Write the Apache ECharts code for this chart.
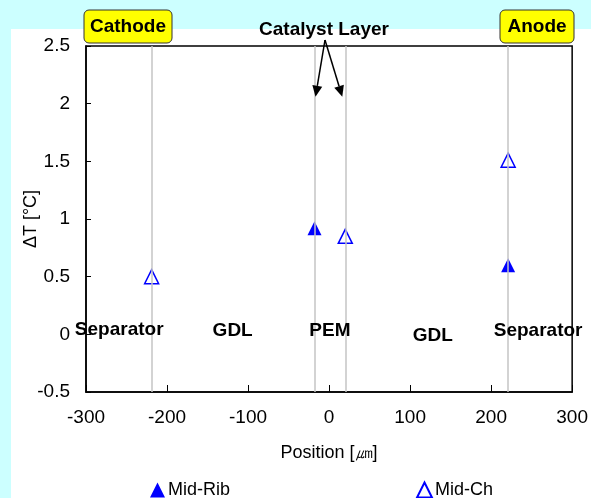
<!DOCTYPE html>
<html lang="en">
<head>
    <meta charset="UTF-8">
    <title>Temperature rise across the cell</title>
    <script src="https://cdn.jsdelivr.net/npm/echarts@6/dist/echarts.min.js"></script>
    <style>
        html, body { margin: 0; padding: 0; background: #ccffff; }
        #panel { position: absolute; left: 11px; top: 29px; right: 0; bottom: 0; background: #fff; }
        #chart { position: absolute; left: 0; top: 0; width: 591px; height: 498px; }
    </style>
</head>
<body>
    <div id="panel"></div>
    <div id="chart"></div>
    <script>
        // values
        var midRibX = [-18, 221];
        var midRibY = [0.92, 0.6];
        var midChX = [-219, 20, 221];
        var midChY = [0.5, 0.85, 1.51];

        // layer boundaries (gray vertical lines)
        var boundaries = [-219, -18, 20, 221];

        // layer names and where they sit
        var regionNames = ['Separator', 'GDL', 'PEM', 'GDL', 'Separator'];
        var regionX = [-259, -119, 1, 128, 258];
        var regionY = [0.04, 0.03, 0.03, -0.01, 0.03];

        var font = 'Liberation Sans, Arial, sans-serif';

        function pairs(xs, ys) {
            return xs.map(function (x, i) { return [x, ys[i]]; });
        }

        var chart = echarts.init(document.getElementById('chart'), null, { renderer: 'canvas' });

        var option = {
            animation: false,
            backgroundColor: 'transparent',
            grid: {
                left: 86, right: 17, top: 46, bottom: 106,
                show: true, borderColor: '#000', borderWidth: 1.5, backgroundColor: 'transparent'
            },
            xAxis: {
                type: 'value', min: -300, max: 300, interval: 100,
                name: 'Position [㎛]', nameLocation: 'middle', nameGap: 52,
                nameMoveOverlap: false,
                nameTextStyle: { fontFamily: font, fontSize: 18, color: '#000' },
                axisLine: { onZero: false, lineStyle: { color: '#000', width: 1.5 } },
                axisTick: { inside: true, length: 7, lineStyle: { color: '#000' } },
                axisLabel: { fontFamily: font, fontSize: 19, color: '#000', margin: 16 },
                splitLine: { show: false }
            },
            yAxis: {
                type: 'value', min: -0.5, max: 2.5, interval: 0.5,
                name: 'ΔT [°C]', nameLocation: 'middle', nameGap: 46,
                nameMoveOverlap: false,
                nameTextStyle: { fontFamily: font, fontSize: 18, color: '#000' },
                axisLine: { show: true, onZero: false, lineStyle: { color: '#000', width: 1.5 } },
                axisTick: { inside: true, length: 5, lineStyle: { color: '#000' } },
                axisLabel: { fontFamily: font, fontSize: 19, color: '#000', margin: 16 },
                splitLine: { show: false }
            },
            legend: {
                data: ['Mid-Rib', 'Mid-Ch'],
                left: 145, top: 476, itemGap: 186, itemWidth: 15, itemHeight: 15,
                textStyle: { fontFamily: font, fontSize: 18, color: '#000', padding: [0, 0, 0, -2] }
            },
            series: [
                {
                    // boundary lines only
                    name: 'boundaries', type: 'scatter', silent: true, symbolSize: 0, data: [],
                    markLine: {
                        silent: true, symbol: ['none', 'none'], label: { show: false },
                        lineStyle: { color: '#c4c4c4', type: 'solid', width: 1.5 },
                        data: boundaries.map(function (b) { return { xAxis: b }; })
                    },
                    z: 1
                },
                {
                    name: 'layers', type: 'scatter', silent: true, symbolSize: 0,
                    itemStyle: { opacity: 1 },
                    data: regionNames.map(function (n, i) { return { name: n, value: [regionX[i], regionY[i]] }; }),
                    label: {
                        show: true, position: 'inside', formatter: '{b}',
                        fontFamily: font, fontSize: 19, fontWeight: 'bold', color: '#000',
                        textBorderWidth: 0
                    },
                    z: 5
                },
                {
                    name: 'Mid-Ch', type: 'scatter', symbol: 'triangle', symbolSize: 14,
                    itemStyle: { color: '#fff', borderColor: '#0000ff', borderWidth: 1.5, opacity: 1 },
                    data: pairs(midChX, midChY), z: 3
                },
                {
                    name: 'Mid-Rib', type: 'scatter', symbol: 'triangle', symbolSize: 14,
                    itemStyle: { color: '#0000ff', opacity: 1 },
                    data: pairs(midRibX, midRibY), z: 4
                }
            ]
        };

        chart.setOption(option);

        // arrows from the "Catalyst Layer" note down to the two boundary lines
        function arrow(x0, y0, x1, y1) {
            var dx = x1 - x0, dy = y1 - y0, len = Math.sqrt(dx * dx + dy * dy);
            var ux = dx / len, uy = dy / len, hl = 11, hw = 5;
            var bx = x1 - ux * hl, by = y1 - uy * hl;
            return [
                { type: 'line', shape: { x1: x0, y1: y0, x2: bx, y2: by }, style: { stroke: '#000', lineWidth: 1.5 }, z: 10 },
                { type: 'polygon', shape: { points: [[x1, y1], [bx - uy * hw, by + ux * hw], [bx + uy * hw, by - ux * hw]] }, style: { fill: '#000' }, z: 10 }
            ];
        }

        var tipL = chart.convertToPixel({ gridIndex: 0 }, [boundaries[1], 2.06]);
        var tipR = chart.convertToPixel({ gridIndex: 0 }, [boundaries[2], 2.06]);

        var noteStyle = { fontFamily: font, fontSize: 19, fontWeight: 'bold', fill: '#000' };

        var graphics = [
            { type: 'text', x: 324, y: 30, style: Object.assign({ text: 'Catalyst Layer', align: 'center', verticalAlign: 'middle' }, noteStyle), z: 11 },
            { type: 'rect', shape: { x: 84, y: 10, width: 88, height: 33, r: 5 }, style: { fill: '#ffff00', stroke: '#333', lineWidth: 1 }, z: 10 },
            { type: 'text', x: 128, y: 27, style: Object.assign({ text: 'Cathode', align: 'center', verticalAlign: 'middle' }, noteStyle), z: 11 },
            { type: 'rect', shape: { x: 500, y: 10, width: 74, height: 33, r: 5 }, style: { fill: '#ffff00', stroke: '#333', lineWidth: 1 }, z: 10 },
            { type: 'text', x: 537, y: 27, style: Object.assign({ text: 'Anode', align: 'center', verticalAlign: 'middle' }, noteStyle), z: 11 }
        ];
        graphics = graphics.concat(arrow(325, 40, tipL[0] + 1, tipL[1]), arrow(325, 40, tipR[0] - 3, tipR[1]));

        chart.setOption({ graphic: graphics });
    </script>
</body>
</html>
